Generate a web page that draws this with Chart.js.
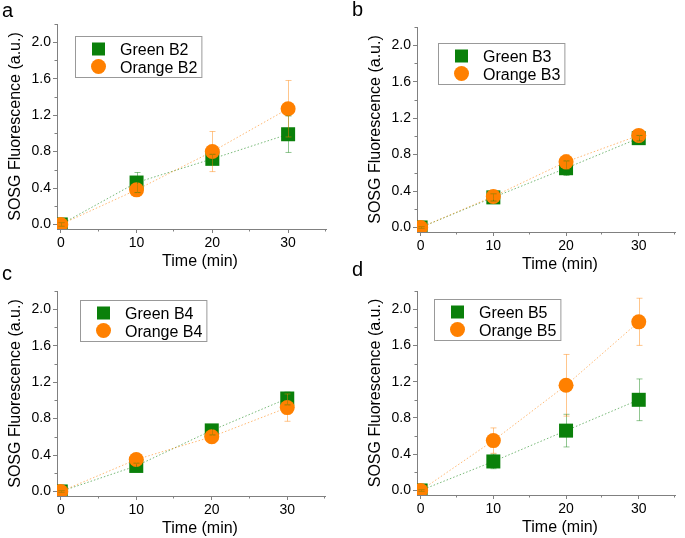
<!DOCTYPE html>
<html>
<head>
<meta charset="utf-8">
<script src="https://cdn.jsdelivr.net/npm/chart.js@4.4.1/dist/chart.umd.min.js"></script>
<style>
    body { margin: 0; background: #fff; }
    #pagina { position: relative; width: 685px; height: 538px; overflow: hidden; }
    canvas { position: absolute; }
    .letra { position: absolute; font: 20px 'Liberation Sans', Arial, sans-serif; line-height: 20px; color: #000; }
</style>
</head>
<body>
<div id="pagina">
    <canvas id="painelA" width="340" height="275" style="left:0px;top:0px"></canvas>
    <canvas id="painelB" width="345" height="275" style="left:340px;top:0px"></canvas>
    <canvas id="painelC" width="340" height="270" style="left:0px;top:268px"></canvas>
    <canvas id="painelD" width="345" height="270" style="left:340px;top:268px"></canvas>
    <div class="letra" style="left:2px;top:0px">a</div>
    <div class="letra" style="left:352px;top:-1px">b</div>
    <div class="letra" style="left:2px;top:263px">c</div>
    <div class="letra" style="left:352px;top:259px">d</div>
</div>
<script>
// tempo (min)
var tempos = [0, 10, 20, 30];
var xTicks = [0, 10, 20, 30];
var xMinor = [5, 15, 25, 35];
var yTicks = [0, 0.4, 0.8, 1.2, 1.6, 2.0];
var yMinor = [0.2, 0.6, 1.0, 1.4, 1.8, 2.2];

var greenB2 = [0, 0.46, 0.72, 0.99];
var greenB2Err = [0.02, 0.11, 0.05, 0.2];
var orangeB2 = [0, 0.38, 0.80, 1.27];
var orangeB2Err = [0.02, 0.06, 0.22, 0.31];

var greenB3 = [0, 0.33, 0.65, 0.98];
var greenB3Err = [0.01, 0.04, 0.08, 0.03];
var orangeB3 = [0, 0.34, 0.72, 1.01];
var orangeB3Err = [0.01, 0.03, 0.08, 0.03];

var greenB4 = [0, 0.28, 0.67, 1.02];
var greenB4Err = [0.01, 0.03, 0.05, 0.07];
var orangeB4 = [0, 0.35, 0.60, 0.92];
var orangeB4Err = [0.01, 0.05, 0.07, 0.15];

var greenB5 = [0, 0.32, 0.66, 1.00];
var greenB5Err = [0.01, 0.08, 0.18, 0.23];
var orangeB5 = [0, 0.55, 1.16, 1.86];
var orangeB5Err = [0.01, 0.14, 0.34, 0.26];

var VERDE = '#0a800a';
var LARANJA = '#ff8000';
var CINZA = '#808080';
var FONTE = "'Liberation Sans', Arial, sans-serif";

function pontos(valores) {
    return tempos.map((t, i) => ({ x: t, y: valores[i] }));
}

// barras de erro, ticks menores, titulos dos eixos e legenda
const extras = {
    id: 'extras',
    afterDatasetsDraw(chart) {
        const ctx = chart.ctx;
        const sx = chart.scales.x, sy = chart.scales.y;
        chart.data.datasets.forEach(ds => {
            ctx.save();
            ctx.strokeStyle = ds.corErro;
            ctx.lineWidth = 1;
            ds.data.forEach((p, j) => {
                const e = ds.erros[j];
                const px = Math.round(sx.getPixelForValue(p.x)) + 0.5;
                const topo = sy.getPixelForValue(p.y + e);
                const base = sy.getPixelForValue(p.y - e);
                ctx.beginPath();
                ctx.moveTo(px, topo); ctx.lineTo(px, base);
                ctx.moveTo(px - 3, topo); ctx.lineTo(px + 3, topo);
                ctx.moveTo(px - 3, base); ctx.lineTo(px + 3, base);
                ctx.stroke();
            });
            ctx.restore();
        });
    },
    afterDraw(chart, args, opts) {
        const ctx = chart.ctx;
        const sx = chart.scales.x, sy = chart.scales.y;
        const a = chart.chartArea;
        ctx.save();
        ctx.strokeStyle = CINZA;
        ctx.lineWidth = 1;
        ctx.beginPath();
        xMinor.forEach(v => {
            const px = Math.round(sx.getPixelForValue(v)) - 0.5;
            ctx.moveTo(px, a.bottom); ctx.lineTo(px, a.bottom + 2.5);
        });
        yMinor.forEach(v => {
            const py = Math.round(sy.getPixelForValue(v)) + 0.5;
            ctx.moveTo(a.left, py); ctx.lineTo(a.left - 2.5, py);
        });
        ctx.stroke();

        ctx.fillStyle = '#000';
        ctx.font = '16px ' + FONTE;
        ctx.textAlign = 'center';
        ctx.textBaseline = 'alphabetic';
        ctx.fillText('Time (min)', a.left + 143, a.bottom + 37);
        ctx.save();
        ctx.translate(a.left - 37, (a.top + a.bottom) / 2);
        ctx.rotate(-Math.PI / 2);
        ctx.fillText('SOSG Fluorescence (a.u.)', 0, 0);
        ctx.restore();

        // legenda
        const bx = a.left + opts.dx, by = a.top + opts.dy;
        ctx.textAlign = 'left';
        const larg = 45 + Math.max(...opts.itens.map(it => ctx.measureText(it.texto).width)) + 4;
        ctx.fillStyle = '#fff';
        ctx.fillRect(bx, by, larg, 41);
        ctx.strokeStyle = '#999';
        ctx.strokeRect(bx + 0.5, by + 0.5, larg, 41);
        opts.itens.forEach((it, i) => {
            const cy = by + 13 + i * 17.5;
            const cx = bx + 23.5;
            ctx.fillStyle = it.cor;
            if (it.forma == 'rect') {
                ctx.fillRect(cx - 6.5, cy - 6.5, 13, 13);
            } else {
                ctx.beginPath();
                ctx.arc(cx, cy, 7.5, 0, Math.PI * 2);
                ctx.fill();
            }
            ctx.fillStyle = '#000';
            ctx.fillText(it.texto, bx + 45, by + 19 + i * 17.5);
        });
        ctx.restore();
    }
};

function plotarPainel(id, tela, area, nome, verde, verdeErr, laranja, laranjaErr, legDx, legDy) {
    const larguraY = area.left - tela.left;
    const alturaX = tela.top + tela.height - area.bottom;

    new Chart(document.getElementById(id), {
        type: 'line',
        data: {
            datasets: [
                {
                    label: 'Green ' + nome,
                    data: pontos(verde),
                    erros: verdeErr,
                    corErro: 'rgba(10, 128, 10, 0.45)',
                    order: 2,
                    borderColor: 'rgba(10, 128, 10, 0.55)',
                    borderWidth: 1,
                    borderDash: [1.5, 2],
                    pointStyle: 'rect',
                    pointRadius: 9.9,
                    pointBackgroundColor: VERDE,
                    pointBorderWidth: 0,
                    fill: false
                },
                {
                    label: 'Orange ' + nome,
                    data: pontos(laranja),
                    erros: laranjaErr,
                    corErro: 'rgba(255, 128, 0, 0.45)',
                    order: 1,
                    borderColor: 'rgba(255, 128, 0, 0.55)',
                    borderWidth: 1,
                    borderDash: [1.5, 2],
                    pointStyle: 'circle',
                    pointRadius: 7.5,
                    pointBackgroundColor: LARANJA,
                    pointBorderWidth: 0,
                    fill: false
                }
            ]
        },
        options: {
            responsive: false,
            animation: false,
            events: [],
            layout: {
                padding: {
                    left: 0,
                    top: area.top - tela.top,
                    right: tela.left + tela.width - area.right,
                    bottom: 0
                }
            },
            plugins: {
                legend: { display: false },
                tooltip: { enabled: false },
                extras: {
                    dx: legDx,
                    dy: legDy,
                    itens: [
                        { texto: 'Green ' + nome, cor: VERDE, forma: 'rect' },
                        { texto: 'Orange ' + nome, cor: LARANJA, forma: 'circle' }
                    ]
                }
            },
            scales: {
                x: {
                    type: 'linear',
                    min: -0.5,
                    max: 35,
                    afterBuildTicks: s => { s.ticks = xTicks.map(v => ({ value: v })); },
                    afterFit: s => { s.height = alturaX; },
                    ticks: { color: '#000', font: { size: 14, family: FONTE }, padding: 2, maxRotation: 0 },
                    grid: { drawOnChartArea: false, tickLength: 4, color: CINZA },
                    border: { color: CINZA, width: 1 }
                },
                y: {
                    min: -0.05,
                    max: 2.2,
                    afterBuildTicks: s => { s.ticks = yTicks.map(v => ({ value: v })); },
                    afterFit: s => { s.width = larguraY; },
                    ticks: {
                        color: '#000',
                        font: { size: 14, family: FONTE },
                        padding: 2,
                        callback: v => Number(v).toFixed(1)
                    },
                    grid: { drawOnChartArea: false, tickLength: 4, color: CINZA },
                    border: { color: CINZA, width: 1 }
                }
            }
        },
        plugins: [extras]
    });
}

plotarPainel('painelA', { left: 0, top: 0, width: 340, height: 275 }, { left: 57, top: 24, right: 326, bottom: 229 },
    'B2', greenB2, greenB2Err, orangeB2, orangeB2Err, 18, 12);
plotarPainel('painelB', { left: 340, top: 0, width: 345, height: 275 }, { left: 417, top: 27, right: 685, bottom: 232 },
    'B3', greenB3, greenB3Err, orangeB3, orangeB3Err, 21, 16);
plotarPainel('painelC', { left: 0, top: 268, width: 340, height: 270 }, { left: 57, top: 291, right: 325, bottom: 496 },
    'B4', greenB4, greenB4Err, orangeB4, orangeB4Err, 23, 9);
plotarPainel('painelD', { left: 340, top: 268, width: 345, height: 270 }, { left: 417, top: 291, right: 685, bottom: 495 },
    'B5', greenB5, greenB5Err, orangeB5, orangeB5Err, 17, 8);
</script>
</body>
</html>
